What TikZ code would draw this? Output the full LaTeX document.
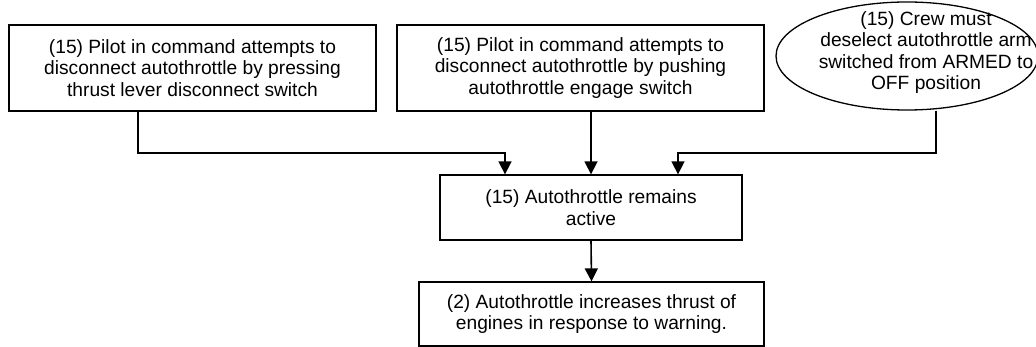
\documentclass[tikz,border=0pt]{standalone}
\usepackage{fontspec}
\setmainfont{Liberation Sans}
\usetikzlibrary{arrows.meta,shapes.geometric}
\begin{document}
\begin{tikzpicture}[x=1pt,y=-1pt,
  every node/.style={font=\fontsize{19.2}{21.5}\selectfont, align=center},
  stepbox/.style={draw, line width=1.3pt, inner sep=0pt, minimum width=#1},
  flow/.style={line width=1.6pt, -{Triangle[width=13pt,length=13pt]}}]
\useasboundingbox (0,0) rectangle (1036,347);
\clip (0,0) rectangle (1036,347);

% top row of causes
\node[stepbox=367pt, minimum height=86pt] (b1) at (192.5,68)
  {(15) Pilot in command attempts to\\disconnect autothrottle by pressing\\thrust lever disconnect switch};
\node[stepbox=367pt, minimum height=86pt] (b2) at (580.5,68)
  {(15) Pilot in command attempts to\\disconnect autothrottle by pushing\\autothrottle engage switch};
\node[draw, ellipse, line width=1.3pt, inner sep=0pt,
      minimum width=262pt, minimum height=108pt] (e) at (907,56) {};
\node (et) at (926,52.5)
  {(15) Crew must\\deselect autothrottle arm\\switched from ARMED to\\OFF position};

% result chain
\node[stepbox=302pt, minimum height=65pt] (b3) at (591,207.5)
  {(15) Autothrottle remains\\active};
\node[stepbox=345pt, minimum height=64pt] (b4) at (591.5,314)
  {(2) Autothrottle increases thrust of\\engines in response to warning.};

% connectors
\coordinate (k1) at (138,153);
\coordinate (k3) at (936,153);
\coordinate (a1) at ([xshift=-86pt]b3.north);
\coordinate (a3) at ([xshift=87pt]b3.north);
\draw[flow] (b1.south -| k1) -- (k1) -| (a1);
\draw[flow] (b2.south -| b3.north) -- (b3.north);
\draw[flow] (e.south -| k3) -- (k3) -| (a3);
\draw[flow] (b3.south) -- (b4.north);
\end{tikzpicture}
\end{document}
